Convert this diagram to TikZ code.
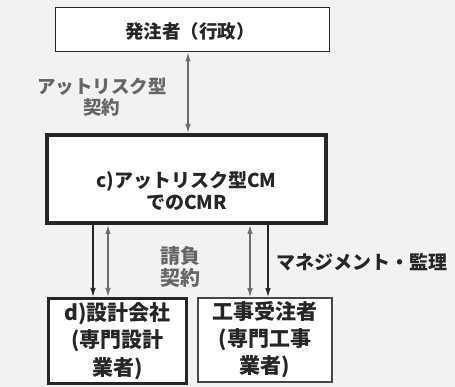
\documentclass[tikz,border=0pt]{standalone}
\usepackage{fontspec}
\setmainfont{Noto Sans CJK JP}
\usetikzlibrary{arrows.meta}
\definecolor{bgc}{HTML}{F2F2F2}
\definecolor{linec}{HTML}{262626}
\definecolor{grayarr}{HTML}{6E6E6E}
\begin{document}
\begin{tikzpicture}[x=1pt,y=-1pt,
  box/.style={draw=linec,fill=white,inner sep=0pt},
  txt/.style={align=center,inner sep=0pt,text=black!85},
  blackarr/.style={draw=linec,line width=1.2pt,-{Latex[length=9pt,width=5.5pt]}},
  grayboth/.style={draw=grayarr,line width=1.2pt,{Latex[length=9pt,width=5.5pt]}-{Latex[length=9pt,width=5.5pt]}}
]
\fill[bgc] (0,0) rectangle (455,387);
\useasboundingbox (0,0) rectangle (455,387);

% boxes
\node[box,line width=1.8pt,minimum width=274pt,minimum height=44pt] (top) at (192.5,29.5) {};
\node[txt,font=\fontsize{18.5}{22}\selectfont\bfseries] (toptext) at (190,31) {発注者（行政）};

\node[box,line width=4pt,minimum width=279pt,minimum height=88pt] (mid) at (186.5,179) {};
\node[txt,font=\fontsize{19}{22}\selectfont\bfseries] (midtext) at (186.5,191) {c)アットリスク型CM\\[0pt]でのCMR};

\node[box,line width=3.2pt,minimum width=138pt,minimum height=85pt] (d) at (117.5,341) {};
\node[txt,font=\fontsize{21}{27.5}\selectfont\bfseries] (dtext) at (117.5,341) {d)設計会社\\(専門設計\\業者)};

\node[box,line width=1.6pt,draw=linec!85,minimum width=134pt,minimum height=84pt] (e) at (265,340) {};
\node[txt,font=\fontsize{21}{27}\selectfont\bfseries] (etext) at (265,340) {工事受注者\\(専門工事\\業者)};

% connectors
\draw[grayboth] (top.south -| 188,0) -- (mid.north -| 188,0);
\draw[blackarr] (mid.south -| 93,0) -- (d.north -| 93,0);
\draw[grayboth] (mid.south -| 108,0) -- (d.north -| 108,0);
\draw[grayboth] (mid.south -| 250,0) -- (e.north -| 250,0);
\draw[blackarr] (mid.south -| 268,0) -- (e.north -| 268,0);

% labels
\node[txt,font=\fontsize{18.5}{20.5}\selectfont\bfseries,text=black!60] (lab1) at (102,97) {アットリスク型\\契約};
\node[txt,font=\fontsize{20}{21.5}\selectfont\bfseries,text=black!60] (lab2) at (180,267) {請負\\契約};
\node[txt,font=\fontsize{19}{21}\selectfont\bfseries] (lab3) at (362,262) {マネジメント・監理};
\end{tikzpicture}
\end{document}
